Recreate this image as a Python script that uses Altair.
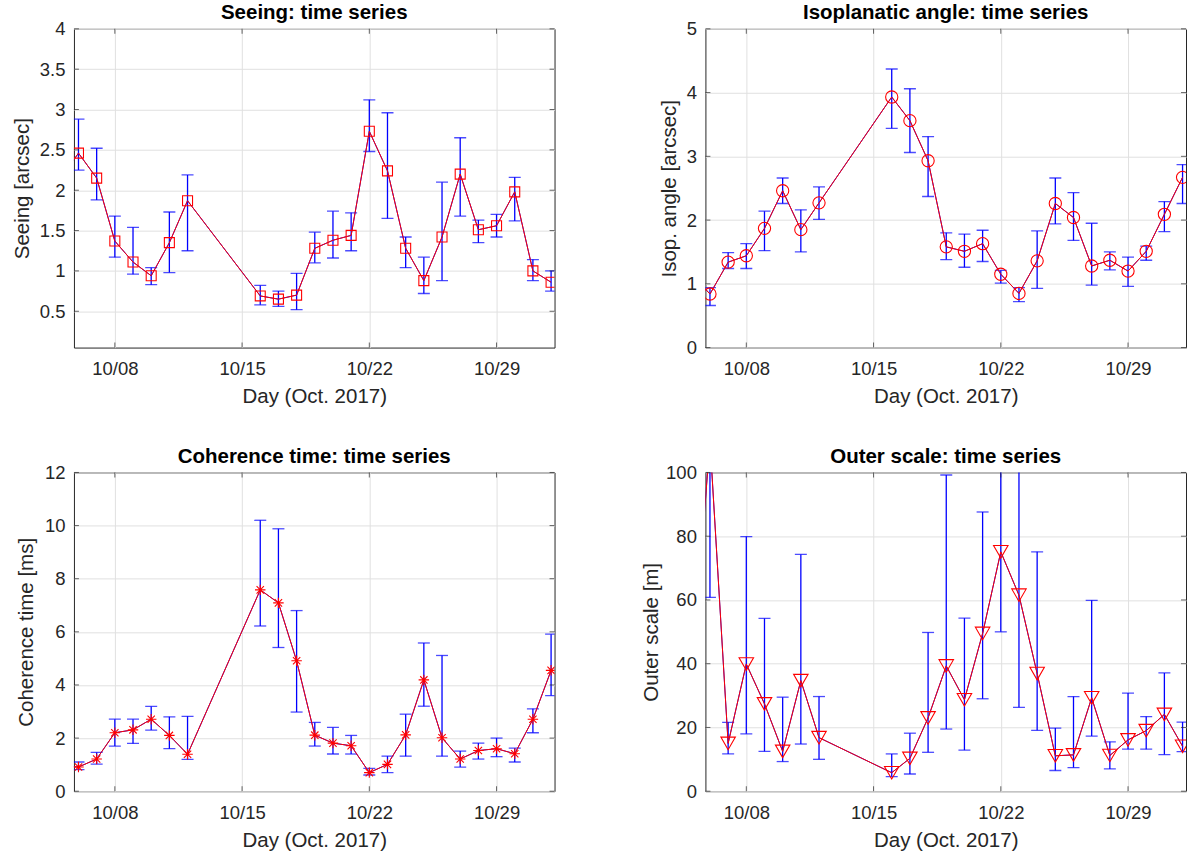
import altair as alt
import pandas as pd

# ---- data (day of October 2017; 32 = Nov 1) ----
days = [5, 6, 7, 8, 9, 10, 11, 12,
        16, 17, 18, 19, 20, 21, 22, 23, 24, 25, 26, 27, 28, 29, 30, 31, 32]

seeing_val = [2.14, 2.46, 2.15, 1.37, 1.11, 0.94, 1.35, 1.87,
              0.69, 0.65, 0.70, 1.28, 1.38, 1.44, 2.73, 2.24, 1.28, 0.88, 1.42, 2.20, 1.51, 1.56, 1.98, 1.00, 0.86]
seeing_lo = [2.14, 2.25, 1.88, 1.17, 0.96, 0.83, 0.98, 1.25,
             0.58, 0.56, 0.52, 1.10, 1.16, 1.25, 2.48, 1.65, 1.04, 0.72, 0.88, 1.68, 1.35, 1.42, 1.62, 0.88, 0.75]
seeing_hi = [2.14, 2.88, 2.52, 1.68, 1.54, 1.04, 1.73, 2.19,
             0.82, 0.75, 0.97, 1.48, 1.74, 1.72, 3.12, 2.96, 1.42, 1.17, 2.10, 2.65, 1.63, 1.70, 2.16, 1.14, 1.00]

iso_val = [1.15, 0.84, 1.34, 1.44, 1.87, 2.46, 1.85, 2.27,
           3.93, 3.56, 2.93, 1.58, 1.51, 1.63, 1.15, 0.85, 1.36, 2.26, 2.04, 1.28, 1.37, 1.20, 1.51, 2.09, 2.67]
iso_lo = [1.15, 0.66, 1.24, 1.24, 1.52, 2.26, 1.50, 2.01,
          3.44, 3.06, 2.37, 1.38, 1.26, 1.35, 1.01, 0.72, 0.93, 1.94, 1.68, 0.98, 1.22, 0.96, 1.37, 1.82, 2.26]
iso_hi = [1.15, 0.94, 1.49, 1.63, 2.14, 2.66, 2.16, 2.52,
          4.37, 4.06, 3.31, 1.80, 1.78, 1.84, 1.21, 0.94, 1.83, 2.66, 2.43, 1.95, 1.50, 1.42, 1.59, 2.29, 2.87]

coh_val = [0.95, 0.91, 1.21, 2.20, 2.31, 2.71, 2.10, 1.39,
           7.58, 7.09, 4.91, 2.11, 1.81, 1.71, 0.70, 1.01, 2.12, 4.19, 2.01, 1.21, 1.53, 1.60, 1.41, 2.71, 4.55]
coh_lo = [0.95, 0.81, 1.02, 1.70, 1.80, 2.30, 1.60, 1.20,
          6.22, 5.41, 2.98, 1.70, 1.40, 1.40, 0.61, 0.70, 1.32, 3.20, 1.32, 0.91, 1.21, 1.30, 1.10, 2.20, 3.60]
coh_hi = [0.95, 1.10, 1.46, 2.71, 2.71, 3.19, 2.80, 2.82,
          10.2, 9.88, 6.80, 2.59, 2.40, 2.10, 0.86, 1.32, 2.90, 5.58, 5.11, 1.51, 1.81, 2.00, 1.62, 3.10, 5.91]

outer_val = [35, 110, 15, 39.9, 27.4, 12.5, 34.7, 16.8,
             5.8, 10.3, 23.0, 39.3, 28.7, 49.5, 75.1, 61.5, 36.9, 11.1, 11.4, 29.3, 11.2, 16.1, 19.0, 24.1, 14.1]
outer_lo = [35, 60.8, 11.7, 18.0, 12.5, 9.3, 14.8, 10.0,
            4.6, 5.4, 12.2, 19.5, 12.9, 29.0, 50.0, 26.3, 19.1, 6.5, 7.4, 17.3, 7.0, 13.2, 13.2, 11.5, 12.4]
outer_hi = [35, 160, 21.6, 79.9, 54.2, 29.5, 74.3, 29.7,
            11.7, 18.2, 49.8, 99.2, 54.3, 87.6, 125, 130, 75.1, 19.8, 29.7, 59.9, 15.5, 30.8, 23.4, 37.1, 21.7]

x_domain = [5.75, 32.19]
x_ticks = [8, 15, 22, 29]
x_title = "Day (Oct. 2017)"

W, H = 481, 319
FONT = "Liberation Sans"
BLUE = "#0000FF"
RED = "#FF0000"
FRAME = "#262626"
LABEL_FS = 18.5
TITLE_FS = 20.5

ASTERISK = "M-1,0L1,0M0,-1L0,1M-0.7,-0.7L0.7,0.7M-0.7,0.7L0.7,-0.7"


def panel(title, ytitle, val, lo, hi, ydom, yticks, shape, msize, title_x):
    df = pd.DataFrame({"day": days, "val": val, "lo": lo, "hi": hi})
    xs = alt.Scale(domain=x_domain, nice=False, zero=False)
    ys = alt.Scale(domain=ydom, nice=False, zero=False)
    xaxis = alt.Axis(values=x_ticks, grid=True, title=x_title, titleY=39,
                     labelExpr="'10/' + (datum.value < 10 ? '0' : '') + datum.value")
    yaxis = alt.Axis(values=yticks, grid=True, title=ytitle, labelExpr="'' + datum.value",
                     titleX=title_x)

    def X(f):
        return alt.X(f, type="quantitative", scale=xs, axis=xaxis)

    def Y(f):
        return alt.Y(f, type="quantitative", scale=ys, axis=yaxis)

    base = alt.Chart(df)
    rule = base.mark_rule(color=BLUE, strokeWidth=1.3, clip=True).encode(
        x=X("day"), y=Y("lo"), y2="hi")
    cap_lo = base.mark_tick(orient="horizontal", size=12, thickness=1.3, color=BLUE, clip=True).encode(
        x=X("day"), y=Y("lo"))
    cap_hi = base.mark_tick(orient="horizontal", size=12, thickness=1.3, color=BLUE, clip=True).encode(
        x=X("day"), y=Y("hi"))
    line_b = base.mark_line(color=BLUE, strokeWidth=1.0, clip=True).encode(
        x=X("day"), y=Y("val"))
    line_r = base.mark_line(color=RED, strokeWidth=1.0, clip=True).encode(
        x=X("day"), y=Y("val"))
    pts = base.mark_point(shape=shape, size=msize, filled=False, color=RED,
                          strokeWidth=1.1, opacity=1, clip=True).encode(
        x=X("day"), y=Y("val"))

    xt = alt.Chart(pd.DataFrame({"t": x_ticks}))
    yt = alt.Chart(pd.DataFrame({"t": yticks}))
    tx_b = xt.mark_tick(orient="vertical", size=5, thickness=1, color=FRAME).encode(
        x=X("t"), y=alt.value(H - 2.5))
    tx_t = xt.mark_tick(orient="vertical", size=5, thickness=1, color=FRAME).encode(
        x=X("t"), y=alt.value(2.5))
    ty_l = yt.mark_tick(orient="horizontal", size=5, thickness=1, color=FRAME).encode(
        y=Y("t"), x=alt.value(2.5))
    ty_r = yt.mark_tick(orient="horizontal", size=5, thickness=1, color=FRAME).encode(
        y=Y("t"), x=alt.value(W - 2.5))

    return alt.layer(rule, cap_lo, cap_hi, line_b, line_r, pts, tx_b, tx_t, ty_l, ty_r).properties(
        width=W, height=H, title=alt.TitleParams(title))


p1 = panel("Seeing: time series", "Seeing [arcsec]", seeing_val, seeing_lo, seeing_hi,
           [0.05, 4], [0.5, 1, 1.5, 2, 2.5, 3, 3.5, 4], "square", 100, -41)
p2 = panel("Isoplanatic angle: time series", "Isop. angle [arcsec]", iso_val, iso_lo, iso_hi,
           [0, 5], [0, 1, 2, 3, 4, 5], "circle", 150, -26)
p3 = panel("Coherence time: time series", "Coherence time [ms]", coh_val, coh_lo, coh_hi,
           [0, 12], [0, 2, 4, 6, 8, 10, 12], ASTERISK, 110, -37)
p4 = panel("Outer scale: time series", "Outer scale [m]", outer_val, outer_lo, outer_hi,
           [0, 100], [0, 20, 40, 60, 80, 100], "triangle-down", 210, -44)

chart = alt.concat(p1, p2, p3, p4, columns=2,
                   spacing={"row": 125, "column": 151}, bounds="flush").properties(
    padding={"left": 12, "top": 2.5, "right": 15, "bottom": 8},
    autosize=alt.AutoSizeParams(type="pad"),
).configure_view(
    stroke=FRAME, strokeWidth=1
).configure_axis(
    domain=False, ticks=False, tickSize=0,
    grid=True, gridColor="#E0E0E0", gridWidth=1,
    labelFont=FONT, labelFontSize=LABEL_FS, labelColor=FRAME, labelPadding=9,
    titleFont=FONT, titleFontSize=TITLE_FS, titleFontWeight="normal", titleColor=FRAME,
).configure_axisX(
    labelPadding=12,
).configure_title(
    font=FONT, fontSize=TITLE_FS, fontWeight="bold", color="#000000", offset=-4, anchor="middle",
)

chart.save("out.html", embed_options={"renderer": "svg", "actions": False})
